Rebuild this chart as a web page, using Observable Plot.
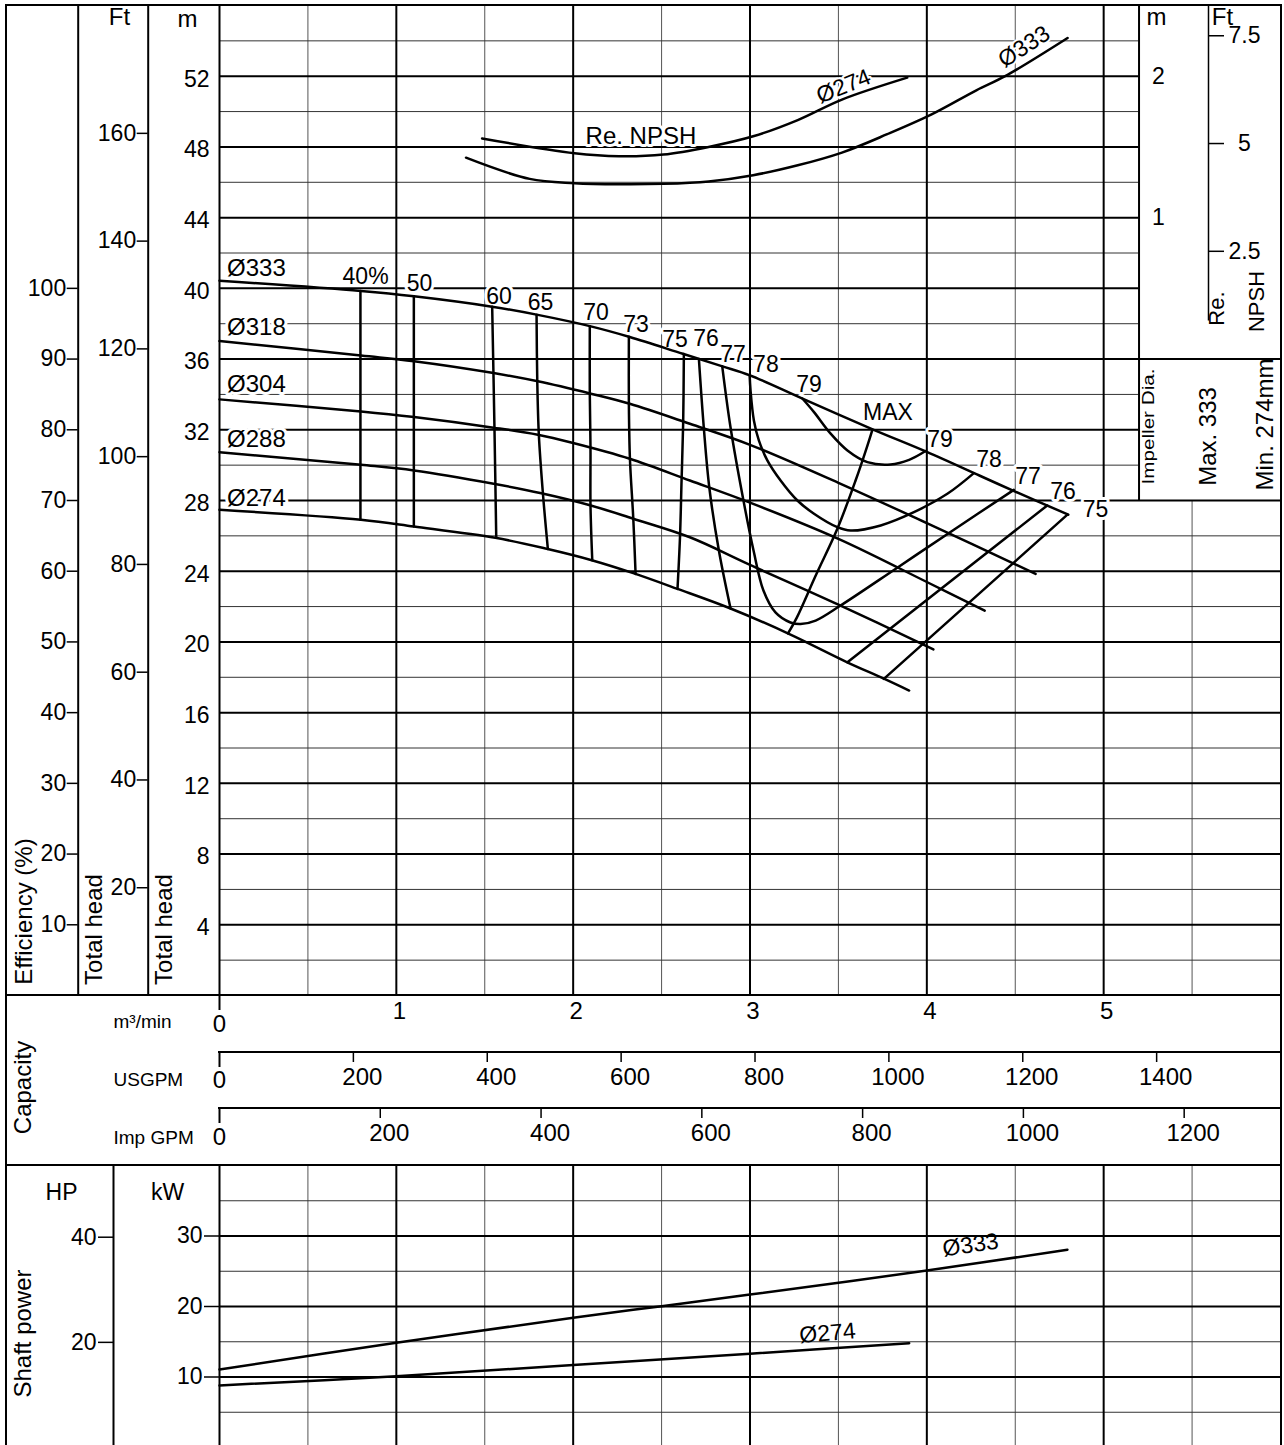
<!DOCTYPE html>
<html>
<head>
<meta charset="utf-8">
<script src="https://cdn.jsdelivr.net/npm/d3@7"></script>
<script src="https://cdn.jsdelivr.net/npm/@observablehq/plot@0.6"></script>
<style>
html, body { margin: 0; padding: 0; background: #fff; }
#page { position: relative; width: 1284px; height: 1445px; overflow: hidden; background: #fff; font-family: "Liberation Sans", Arial, sans-serif; }
#page svg { position: absolute; left: 0; }
.ln { position: absolute; background: #000; }
</style>
</head>
<body>
<div id="page"></div>
<script>
// ---------------- DATA ----------------
// capacity in m3/min, head in m
const capGrid = [0, 0.5, 1, 1.5, 2, 2.5, 3, 3.5, 4, 4.5, 5, 5.5];
const headGrid = [2, 4, 6, 8, 10, 12, 14, 16, 18, 20, 22, 24, 26, 28, 30, 32, 34, 36, 38, 40, 42, 44, 46, 48, 50, 52, 54];
const headTicks = [4, 8, 12, 16, 20, 24, 28, 32, 36, 40, 44, 48, 52];
const effTicks = [10, 20, 30, 40, 50, 60, 70, 80, 90, 100];
const ftTicks = [20, 40, 60, 80, 100, 120, 140, 160];
const npshMTicks = [1, 2];
const npshFtTicks = [2.5, 5, 7.5];
const m3Ticks = [0, 1, 2, 3, 4, 5];
const usgpmTicks = [0, 200, 400, 600, 800, 1000, 1200, 1400];
const impgpmTicks = [0, 200, 400, 600, 800, 1000, 1200];
const powerGrid = [5, 10, 15, 20, 25, 30, 35];
const kwTicks = [10, 20, 30];
const hpTicks = [20, 40];

// head curves [Q m3/min, H m]
const head333 = [[0,40.43],[0.8,39.85],[1.1,39.55],[1.55,38.95],[1.8,38.5],[2.1,37.85],[2.32,37.25],[2.62,36.3],[2.84,35.6],[3.0,35.08],[3.3,33.75],[3.7,32.0],[4.0,30.75],[4.3,29.4],[4.5,28.5],[4.8,27.2]];
const head318 = [[0,37.02],[0.8,36.2],[1.1,35.88],[1.55,35.21],[1.8,34.74],[2.1,34.04],[2.32,33.47],[2.66,32.34],[3.0,31.15],[3.5,29.0],[4.0,26.72],[4.615,23.85]];
const head304 = [[0,33.72],[0.8,33.04],[1.1,32.72],[1.55,32.12],[1.8,31.72],[2.0,31.25],[2.32,30.36],[2.66,29.13],[3.0,27.88],[3.5,25.83],[4.0,23.39],[4.327,21.77]];
const head288 = [[0,30.73],[0.8,30.02],[1.1,29.70],[1.55,28.95],[1.82,28.41],[2.1,27.72],[2.34,26.97],[2.66,25.92],[3.0,24.36],[3.5,22.11],[4.037,19.58]];
const head274 = [[0,27.47],[0.8,26.91],[1.1,26.53],[1.56,25.89],[1.85,25.27],[2.11,24.61],[2.34,23.89],[2.59,23.0],[2.89,21.89],[3.22,20.46],[3.55,18.85],[3.76,17.91],[3.9,17.25]];

// iso-efficiency lines [Q, H]
const eff40 = [[0.797,39.85],[0.797,26.91]];
const eff50 = [[1.099,39.55],[1.099,26.53]];
const eff60 = [[1.542,38.96],[1.555,32.06],[1.565,25.89]];
const eff65 = [[1.793,38.5],[1.797,34.74],[1.806,31.7],[1.829,28.39],[1.857,25.25]];
const eff70 = [[2.094,37.86],[2.094,34.05],[2.098,31.0],[2.098,27.72],[2.108,24.62]];
const eff73 = [[2.315,37.26],[2.315,33.48],[2.321,30.36],[2.34,26.97],[2.353,23.84]];
const eff75 = [[2.626,36.28],[2.622,32.34],[2.613,29.13],[2.604,25.91],[2.590,23.0]];
const eff76 = [[2.711,36.01],[2.739,32.09],[2.770,28.72],[2.824,25.17],[2.890,21.89]];
const eff77 = [[2.843,35.59],[2.890,32.13],[2.963,28.0],[3.020,25.17],[3.076,22.91],[3.144,21.67],[3.229,21.10],[3.286,21.01],[3.371,21.21],[3.512,22.06],[3.833,24.2],[4.153,26.35],[4.492,28.6]];
const eff78 = [[2.998,35.09],[3.003,34.23],[3.022,32.53],[3.050,31.40],[3.098,30.27],[3.173,29.13],[3.268,28.0],[3.362,27.25],[3.494,26.49],[3.569,26.30],[3.739,26.59],[3.927,27.34],[4.116,28.38],[4.266,29.55]];
const eff79 = [[3.296,33.77],[3.362,33.0],[3.456,31.78],[3.551,30.83],[3.664,30.17],[3.795,30.04],[3.90,30.3],[3.993,30.8]];
const effMax = [[3.692,32.0],[3.664,31.11],[3.597,29.13],[3.494,26.40],[3.371,23.74],[3.264,21.36],[3.215,20.48]];
const eff76r = [[4.681,27.72],[3.551,18.85]];
const eff75r = [[4.795,27.2],[3.757,17.91]];

// required NPSH [Q, NPSH m]
const npsh274 = [[1.485,1.56],[2.008,1.455],[2.26,1.434],[2.51,1.446],[2.766,1.50],[3.018,1.575],[3.27,1.69],[3.52,1.835],[3.889,1.99]];
const npsh333 = [[1.394,1.424],[1.754,1.274],[2.008,1.244],[2.26,1.236],[2.51,1.239],[2.766,1.256],[3.018,1.30],[3.27,1.37],[3.52,1.46],[3.776,1.59],[4.027,1.73],[4.28,1.90],[4.443,2.0],[4.796,2.27]];

// shaft power [Q, kW]
const power333 = [[0,11.05],[1,14.85],[2,18.4],[2.5,20.05],[3,21.7],[4,25.1],[4.795,28.05]];
const power274 = [[0,8.8],[1,10.1],[2,11.7],[3,13.3],[3.9,14.8]];

// labels
const diaNames = ["Ø333", "Ø318", "Ø304", "Ø288", "Ø274"];
const diaLabelHead = [41.16, 37.77, 34.57, 31.45, 28.14];
const effNames = ["40%","50","60","65","70","73","75","76","77","78","79","MAX","79","78","77","76","75"];
const effLabelQ = [0.826,1.131,1.581,1.815,2.129,2.355,2.576,2.751,2.904,3.090,3.334,3.780,4.075,4.352,4.572,4.770,4.954];
const effLabelH = [40.68,40.29,39.52,39.18,38.61,37.96,37.11,37.14,36.27,35.70,34.57,32.99,31.46,30.32,29.36,28.51,27.49];

// ---------------- BUILD ----------------
const toPts = arr => arr.map(([q, v]) => ({q, v}));
const npshToHead = n => 36 + 8 * n;      // NPSH box scale: 0 m at H=36, 1 m per 8 m of head
const M3_TO_USGPM = 264.172, M3_TO_IMPGPM = 219.969, M_TO_FT = 3.28084, HP_TO_KW = 0.7457;
const boxQ = 5.2;
const font = "'Liberation Sans', Arial, Helvetica, sans-serif";
const baseStyle = {fontFamily: font, fontSize: "24px", background: "transparent", overflow: "visible", color: "black"};
const ML = 219, MR = 4;
const isInt = d => Number.isInteger(d);
const isHalf = d => !Number.isInteger(d);

function pageText(t, px, py, mt, o = {}) {
  return Plot.text([t], {text: d => d, frameAnchor: "top-left", dx: px - ML, dy: py - mt,
    textAnchor: "middle", lineAnchor: "middle", fontSize: 24, fill: "black", ...o});
}
const curve = (arr, extra = {}) => Plot.line(toPts(arr), {x: "q", y: "v", curve: "catmull-rom", stroke: "black", strokeWidth: 2.5, ...extra});

const effLabels = effNames.map((t, i) => ({t, q: effLabelQ[i], h: effLabelH[i]}));
const diaLabels = diaNames.map((t, i) => ({t, q: 0.043, h: diaLabelHead[i]}));

const main = Plot.plot({
  width: 1284, height: 1000,
  marginLeft: ML, marginRight: MR, marginTop: 5, marginBottom: 5,
  x: {domain: [0, 6], axis: null},
  y: {domain: [0, 56], label: null},
  style: baseStyle,
  marks: [
    // grid
    Plot.ruleX(capGrid.filter(isHalf), {y1: 0, y2: d => d > boxQ ? 28 : 56, stroke: "#555", strokeWidth: 1}),
    Plot.ruleY(headGrid.filter(d => d % 4 !== 0), {x1: 0, x2: d => d > 28 ? boxQ : 6, stroke: "#333", strokeWidth: 1}),
    Plot.ruleX(capGrid.filter(isInt), {y1: 0, y2: 56, stroke: "black", strokeWidth: 2}),
    Plot.ruleY(headGrid.filter(d => d % 4 === 0), {x1: 0, x2: d => (d > 28 && d !== 36) ? boxQ : 6, stroke: "black", strokeWidth: 2}),
    Plot.ruleX([boxQ], {y1: 28, y2: 56, stroke: "black", strokeWidth: 2}),
    // left axis lines
    Plot.ruleX([0], {dx: -141.3, stroke: "black", strokeWidth: 2}),
    Plot.ruleX([0], {dx: -71.3, stroke: "black", strokeWidth: 2}),
    // left axes
    Plot.axisY(effTicks.map(e => e / 2.5), {anchor: "left", dx: -141.3, tickSize: 11, tickPadding: 1, strokeWidth: 1.5,
      tickFormat: d => String(Math.round(d * 2.5)), fontSize: 23, label: null}),
    Plot.axisY(ftTicks.map(f => f / M_TO_FT), {anchor: "left", dx: -71.3, tickSize: 11, tickPadding: 1, strokeWidth: 1.5,
      tickFormat: d => String(Math.round(d * M_TO_FT)), fontSize: 23, label: null}),
    Plot.axisY(headTicks, {anchor: "left", tickSize: 0, tickPadding: 10, dy: 3, fontSize: 23, label: null}),
    // NPSH box axes
    Plot.axisY(npshMTicks.map(npshToHead), {anchor: "right", dx: -122, tickSize: 0, tickPadding: 0, textAnchor: "middle",
      tickFormat: d => String((d - 36) / 8), fontSize: 23, label: null}),
    Plot.ruleX([6], {dx: -72, y1: npshToHead(0.27), y2: 56, stroke: "black", strokeWidth: 1.5}),
    Plot.axisY(npshFtTicks.map(f => npshToHead(f / M_TO_FT)), {anchor: "right", dx: -72, tickSize: 15, tickPadding: 21, textAnchor: "middle",
      strokeWidth: 1.5, tickFormat: d => String(Math.round((d - 36) / 8 * M_TO_FT * 10) / 10), fontSize: 23, label: null}),
    // labels with white halo
    Plot.text(effLabels, {x: "q", y: "h", text: "t", fontSize: 23, fill: "black", stroke: "white", strokeWidth: 6, paintOrder: "stroke", textAnchor: "middle", lineAnchor: "middle"}),
    Plot.text(diaLabels, {x: "q", y: "h", text: "t", fontSize: 24, fill: "black", stroke: "white", strokeWidth: 6, paintOrder: "stroke", textAnchor: "start", lineAnchor: "middle"}),
    Plot.text([{t: "Re. NPSH", q: 2.07, h: npshToHead(1.578)}], {x: "q", y: "h", text: "t", fontSize: 24, fill: "black", stroke: "white", strokeWidth: 6, paintOrder: "stroke", textAnchor: "start", lineAnchor: "middle"}),
    Plot.text([{t: "Ø274", q: 3.529, h: npshToHead(1.928)}], {x: "q", y: "h", text: "t", rotate: -22, fontSize: 23, fill: "black", stroke: "white", strokeWidth: 4, paintOrder: "stroke", textAnchor: "middle", lineAnchor: "middle"}),
    Plot.text([{t: "Ø333", q: 4.55, h: npshToHead(2.209)}], {x: "q", y: "h", text: "t", rotate: -33, fontSize: 23, fill: "black", stroke: "white", strokeWidth: 4, paintOrder: "stroke", textAnchor: "middle", lineAnchor: "middle"}),
    // head curves
    curve(head333), curve(head318), curve(head304), curve(head288), curve(head274),
    // efficiency
    curve(eff40), curve(eff50), curve(eff60), curve(eff65), curve(eff70), curve(eff73), curve(eff75), curve(eff76),
    curve(eff77), curve(eff78), curve(eff79), curve(effMax), curve(eff76r), curve(eff75r),
    // NPSH
    Plot.line(npsh274.map(([q, n]) => ({q, v: npshToHead(n)})), {x: "q", y: "v", curve: "catmull-rom", stroke: "black", strokeWidth: 2.5}),
    Plot.line(npsh333.map(([q, n]) => ({q, v: npshToHead(n)})), {x: "q", y: "v", curve: "catmull-rom", stroke: "black", strokeWidth: 2.5}),
    // static texts
    pageText("Ft", 119, 17, 5),
    pageText("m", 187, 19, 5),
    pageText("Efficiency (%)", 24, 911, 5, {rotate: -90}),
    pageText("Total head", 94, 929, 5, {rotate: -90}),
    pageText("Total head", 164, 929, 5, {rotate: -90}),
    pageText("m", 1156, 17, 5),
    pageText("Ft", 1222, 17, 5),
    pageText("Re.", 1216, 308, 5, {rotate: -90, fontSize: 22}),
    pageText("NPSH", 1256, 301, 5, {rotate: -90, fontSize: 22}),
    pageText("Impeller Dia.", 1148, 426, 5, {rotate: -90, fontSize: 17}),
    pageText("Max. 333", 1208, 436, 5, {rotate: -90}),
    pageText("Min. 274mm", 1265, 424, 5, {rotate: -90})
  ]
});

const capacity = Plot.plot({
  width: 1284, height: 170,
  marginLeft: ML, marginRight: MR, marginTop: 0, marginBottom: 0,
  x: {domain: [0, 6], axis: null},
  style: baseStyle,
  marks: [
    Plot.ruleX([0], {insetBottom: 155, stroke: "black", strokeWidth: 2}),
    Plot.text(m3Ticks.filter(d => d > 0), {x: d => d, text: d => String(d), frameAnchor: "top", dy: 16, dx: 3, lineAnchor: "middle", fontSize: 24, fill: "black"}),
    Plot.text(m3Ticks.filter(d => d === 0), {x: d => d, text: d => String(d), frameAnchor: "top", dy: 29, lineAnchor: "middle", fontSize: 24, fill: "black"}),
    // US GPM
    Plot.ruleX(usgpmTicks.filter(d => d > 0).map(g => g / M3_TO_USGPM), {insetTop: 57, insetBottom: 103, stroke: "black", strokeWidth: 1.5}),
    Plot.ruleX([0], {insetTop: 57, insetBottom: 98, stroke: "black", strokeWidth: 2}),
    Plot.text(usgpmTicks.filter(d => d > 0), {x: d => d / M3_TO_USGPM, text: d => String(d), frameAnchor: "top", dy: 82, dx: 9, lineAnchor: "middle", fontSize: 24, fill: "black"}),
    Plot.text(usgpmTicks.filter(d => d === 0), {x: d => d / M3_TO_USGPM, text: d => String(d), frameAnchor: "top", dy: 85, lineAnchor: "middle", fontSize: 24, fill: "black"}),
    // Imp GPM
    Plot.ruleX(impgpmTicks.filter(d => d > 0).map(g => g / M3_TO_IMPGPM), {insetTop: 113, insetBottom: 47, stroke: "black", strokeWidth: 1.5}),
    Plot.ruleX([0], {insetTop: 113, insetBottom: 42, stroke: "black", strokeWidth: 2}),
    Plot.text(impgpmTicks.filter(d => d > 0), {x: d => d / M3_TO_IMPGPM, text: d => String(d), frameAnchor: "top", dy: 137.5, dx: 9, lineAnchor: "middle", fontSize: 24, fill: "black"}),
    Plot.text(impgpmTicks.filter(d => d === 0), {x: d => d / M3_TO_IMPGPM, text: d => String(d), frameAnchor: "top", dy: 142, lineAnchor: "middle", fontSize: 24, fill: "black"}),
    // static labels
    pageText("Capacity", 23, 92, 0, {rotate: -90}),
    pageText("m³/min", 113, 26, 0, {textAnchor: "start", fontSize: 19}),
    pageText("USGPM", 113, 84, 0, {textAnchor: "start", fontSize: 19}),
    pageText("Imp GPM", 113, 142, 0, {textAnchor: "start", fontSize: 19})
  ]
});

const power = Plot.plot({
  width: 1284, height: 282,
  marginLeft: ML, marginRight: MR, marginTop: 0, marginBottom: 0,
  x: {domain: [0, 6], axis: null},
  y: {domain: [0, 40], label: null},
  style: baseStyle,
  marks: [
    Plot.ruleX(capGrid.filter(isHalf), {stroke: "#555", strokeWidth: 1}),
    Plot.ruleY(powerGrid.filter(d => d % 10 !== 0), {x1: 0, x2: 6, stroke: "#333", strokeWidth: 1}),
    Plot.ruleX(capGrid.filter(isInt), {stroke: "black", strokeWidth: 2}),
    Plot.ruleY(powerGrid.filter(d => d % 10 === 0), {x1: 0, x2: 6, stroke: "black", strokeWidth: 2}),
    Plot.ruleX([0], {dx: -106, stroke: "black", strokeWidth: 2}),
    Plot.axisY(kwTicks, {anchor: "left", tickSize: 15, tickPadding: 2, strokeWidth: 1.5, fontSize: 23, label: null}),
    Plot.axisY(hpTicks.map(h => h * HP_TO_KW), {anchor: "left", dx: -106, tickSize: 15, tickPadding: 2, strokeWidth: 1.5,
      tickFormat: d => String(Math.round(d / HP_TO_KW)), fontSize: 23, label: null}),
    curve(power333), curve(power274),
    Plot.text([{t: "Ø333", q: 4.247, kw: 28.7}], {x: "q", y: "kw", text: "t", rotate: -8.5, fontSize: 23, fill: "black", textAnchor: "middle", lineAnchor: "middle"}),
    Plot.text([{t: "Ø274", q: 3.438, kw: 16.2}], {x: "q", y: "kw", text: "t", rotate: -5, fontSize: 23, fill: "black", textAnchor: "middle", lineAnchor: "middle"}),
    pageText("HP", 61, 27, 0, {fontSize: 23}),
    pageText("kW", 167, 27, 0, {fontSize: 23}),
    pageText("Shaft power", 23, 168, 0, {rotate: -90})
  ]
});

const page = document.getElementById("page");
function place(node, top) { node.style.position = "absolute"; node.style.left = "0px"; node.style.top = top + "px"; page.appendChild(node); }
place(main, 0);
place(capacity, 995);
place(power, 1165);

d3.select(main).selectAll("text").filter(function() { return this.textContent === "Impeller Dia."; })
  .attr("textLength", 116).attr("lengthAdjust", "spacingAndGlyphs");

// frame and panel separators
function line(l, t, w, h) { const d = document.createElement("div"); d.className = "ln"; Object.assign(d.style, {left: l + "px", top: t + "px", width: w + "px", height: h + "px"}); page.appendChild(d); }
line(5, 4, 2, 1441);      // left border
line(5, 4, 1277, 2);      // top border
line(1280, 4, 2, 1441);   // right border
line(5, 994, 1277, 2);    // main / capacity separator
line(5, 1164, 1277, 2);   // capacity / power separator
line(218, 1051, 1063, 2); // US GPM axis
line(218, 1107, 1063, 2); // Imp GPM axis
</script>
</body>
</html>
